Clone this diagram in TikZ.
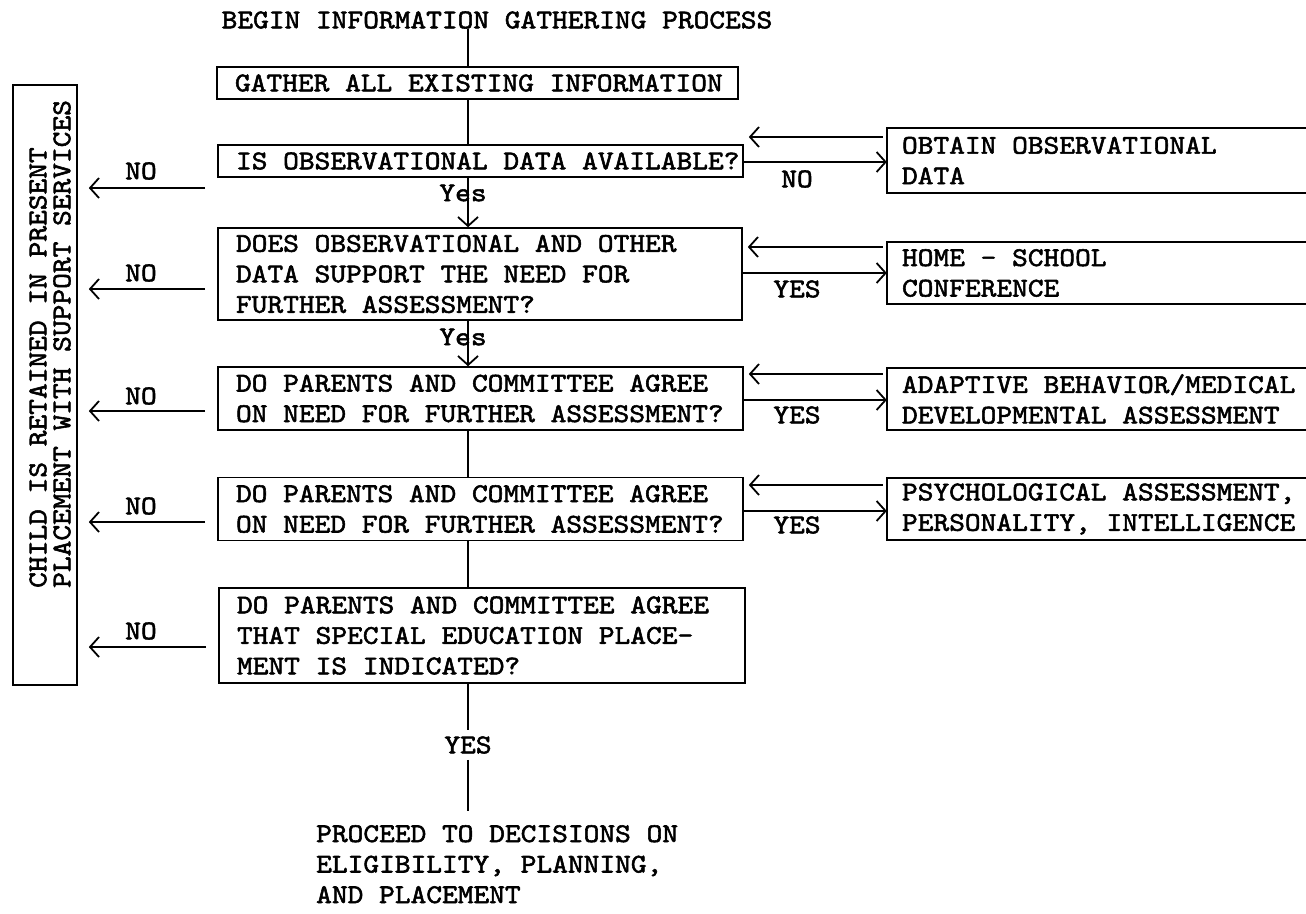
\documentclass[tikz,border=0pt]{standalone}
\usepackage{fontspec}
\newfontfamily\twfam{lmmono10-regular}[Extension=.otf, FakeStretch=1.11, FakeBold=2]
\newcommand\twfont{\twfam\fontsize{27}{30.5}\selectfont}
\newcommand\twrot{\twfam\fontsize{27}{24}\selectfont}
\usetikzlibrary{arrows.meta}
\begin{document}
\begin{tikzpicture}[x=1pt,y=-1pt,
  every node/.style={font=\twfont, text=black},
  ln/.style={line width=1.8pt, draw=black},
  fixsp/.style={execute at begin node={\spaceskip=0pt\xspaceskip=0pt}},
  dbox/.style={draw, line width=1.6pt, align=left, inner xsep=18pt, inner ysep=0pt, fixsp},
  rbox/.style={align=left, inner xsep=15pt, inner ysep=0pt, text width=389pt, fixsp},
  tip/.style={-{Straight Barb[length=9pt,width=20pt]}},
  lab/.style={inner sep=0pt},
  noarr/.style={ln, tip, shorten <=12pt, shorten >=11pt},
  backarr/.style={ln, tip, shorten <=4pt, shorten >=5pt},
  fwdarr/.style={ln, tip}
]
\path[use as bounding box, fill=white] (0,0) rectangle (1306,913);
\coordinate (mx) at (468,0);

% title
\node[lab] (begin) at (497,20) {BEGIN INFORMATION GATHERING PROCESS};

% decision column
\node[dbox, text width=485pt, minimum height=32pt] (b1) at (477.5,83) {\mbox{GATHER ALL EXISTING INFORMATION}};
\node[dbox, text width=489pt, minimum height=32pt] (b2) at (480.5,161) {\mbox{IS OBSERVATIONAL DATA AVAILABLE?}};
\node[dbox, text width=488pt, minimum height=92pt] (b3) at (480,274) {\mbox{DOES OBSERVATIONAL AND OTHER}\\\mbox{DATA SUPPORT THE NEED FOR}\\\mbox{FURTHER ASSESSMENT?}};
\node[dbox, text width=489pt, minimum height=63pt] (b4) at (480.5,398.5) {\mbox{DO PARENTS AND COMMITTEE AGREE}\\\mbox{ON NEED FOR FURTHER ASSESSMENT?}};
\node[dbox, text width=489pt, minimum height=63pt] (b5) at (480.5,509) {\mbox{DO PARENTS AND COMMITTEE AGREE}\\\mbox{ON NEED FOR FURTHER ASSESSMENT?}};
\node[dbox, text width=490pt, minimum height=95pt] (b6) at (482,635.5) {\mbox{DO PARENTS AND COMMITTEE AGREE}\\\mbox{THAT SPECIAL EDUCATION PLACE-}\\\mbox{MENT IS INDICATED?}};

% right boxes (cut by the page edge)
\node[rbox, minimum height=65pt] (r1) at (1096.5,160.5) {\mbox{OBTAIN OBSERVATIONAL}\\\mbox{DATA}};
\node[rbox, minimum height=62pt] (r2) at (1096.5,273) {\mbox{HOME - SCHOOL}\\\mbox{CONFERENCE}};
\node[rbox, minimum height=62pt] (r3) at (1096.5,399) {\mbox{ADAPTIVE BEHAVIOR/MEDICAL}\\\mbox{DEVELOPMENTAL ASSESSMENT}};
\node[rbox, minimum height=62pt] (r4) at (1096.5,509) {\mbox{PSYCHOLOGICAL ASSESSMENT,}\\\mbox{PERSONALITY, INTELLIGENCE}};
\foreach \r in {r1,r2,r3,r4}{
  \draw[line width=1.6pt] (\r.north east) -- (\r.north west) -- (\r.south west) -- (\r.south east);
}

% left result box
\node[draw, line width=1.6pt, minimum width=64pt, minimum height=600pt, inner sep=0pt] (lb) at (45,385) {};
\node[rotate=90, anchor=west, align=left, inner sep=0pt, font=\twrot] (lt) at (50,588) {CHILD IS RETAINED IN PRESENT\\PLACEMENT WITH SUPPORT SERVICES};

% main vertical flow
\draw[ln] (begin.south -| mx) -- (b1.north -| mx);
\draw[ln] (b1.south -| mx) -- (b2.north -| mx);
\draw[fwdarr] (b2.south -| mx) -- (b3.north -| mx);
\node[lab] (yes1) at (463,193) {Yes};
\draw[fwdarr] (b3.south -| mx) -- (b4.north -| mx);
\node[lab] (yes2) at (463,337) {Yes};
\draw[ln] (b4.south -| mx) -- (b5.north -| mx);
\draw[ln] (b5.south -| mx) -- (b6.north -| mx);
\node[inner sep=6pt] (yes3) at (468,745) {YES};
\draw[ln] (b6.south -| mx) -- (yes3.north);
\node[anchor=north west, align=left, inner sep=0pt] (proc) at (316,825) {PROCEED TO DECISIONS ON\\ELIGIBILITY, PLANNING,\\AND PLACEMENT};
\draw[ln, shorten >=14pt] (yes3.south) -- (proc.north -| mx);

% right side loops
\draw[backarr] (r1.west |- 0,137) -- (b2.east |- 0,137);
\draw[fwdarr] (b2.east |- 0,162) -- (r1.west |- 0,162);
\node[lab] (rn1) at (797,179) {NO};
\draw[backarr] (r2.west |- 0,247) -- (b3.east |- 0,247);
\draw[fwdarr] (b3.east |- 0,273) -- (r2.west |- 0,273);
\node[lab] (ry2) at (797,289) {YES};
\draw[backarr] (r3.west |- 0,374) -- (b4.east |- 0,374);
\draw[fwdarr] (b4.east |- 0,400) -- (r3.west |- 0,400);
\node[lab] (ry3) at (797,415) {YES};
\draw[backarr] (r4.west |- 0,485) -- (b5.east |- 0,485);
\draw[fwdarr] (b5.east |- 0,511) -- (r4.west |- 0,511);
\node[lab] (ry4) at (797,525) {YES};

% NO exits to the left
\draw[noarr] (b2.west |- 0,188) -- (lb.east |- 0,188);
\node[lab] (ln2) at (141,171) {NO};
\draw[noarr] (b3.west |- 0,289) -- (lb.east |- 0,289);
\node[lab] (ln3) at (141,273) {NO};
\draw[noarr] (b4.west |- 0,411) -- (lb.east |- 0,411);
\node[lab] (ln4) at (141,396) {NO};
\draw[noarr] (b5.west |- 0,522) -- (lb.east |- 0,522);
\node[lab] (ln5) at (141,506) {NO};
\draw[noarr] (b6.west |- 0,647) -- (lb.east |- 0,647);
\node[lab] (ln6) at (141,631) {NO};
\end{tikzpicture}
\end{document}
